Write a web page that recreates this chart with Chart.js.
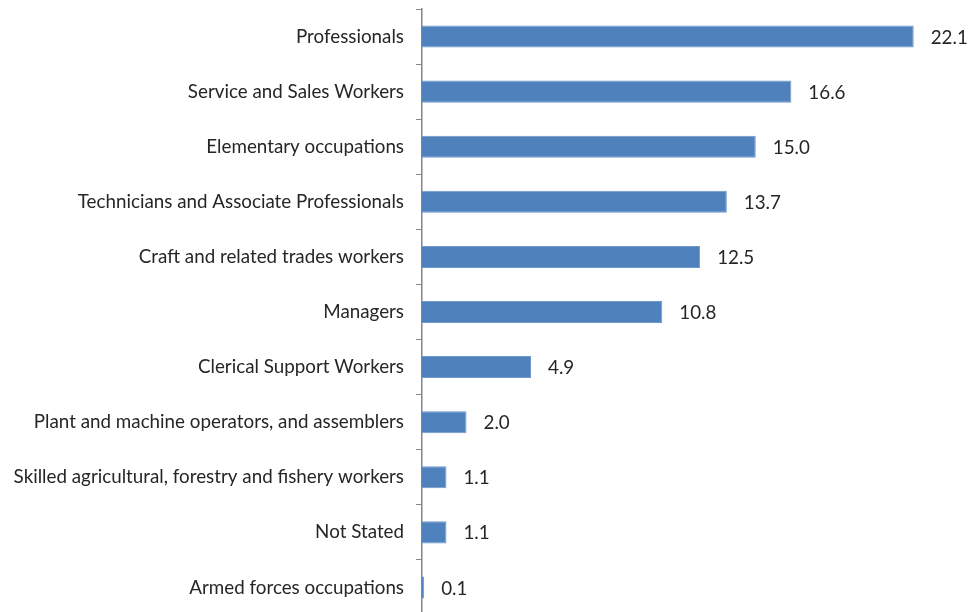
<!DOCTYPE html>
<html>
<head>
<meta charset="utf-8">
<script src="https://cdn.jsdelivr.net/npm/chart.js@4/dist/chart.umd.min.js"></script>
<style>
  html, body { margin: 0; padding: 0; background: #fff; overflow: hidden; }
  #wrap { width: 971px; height: 624px; }
</style>
</head>
<body>
<div id="wrap"><canvas id="chart" width="971" height="624"></canvas></div>
<script>
const categories = [
  'Professionals',
  'Service and Sales Workers',
  'Elementary occupations',
  'Technicians and Associate Professionals',
  'Craft and related trades workers',
  'Managers',
  'Clerical Support Workers',
  'Plant and machine operators, and assemblers',
  'Skilled agricultural, forestry and fishery workers',
  'Not Stated',
  'Armed forces occupations',
];
const shares = [22.1, 16.6, 15.0, 13.7, 12.5, 10.8, 4.9, 2.0, 1.1, 1.1, 0.1];

const FONT = 'Lato, "Open Sans", sans-serif';
const FONT_SIZE = 18.8;

// value labels to the right of each bar
const barLabels = {
  id: 'barLabels',
  afterDatasetsDraw(chart) {
    const ctx = chart.ctx;
    const meta = chart.getDatasetMeta(0);
    ctx.save();
    ctx.font = FONT_SIZE + 'px ' + FONT;
    ctx.fillStyle = '#262626';
    ctx.textAlign = 'left';
    ctx.textBaseline = 'middle';
    meta.data.forEach((bar, i) => {
      ctx.fillText(shares[i].toFixed(1), bar.x + 17, bar.y + 1);
    });
    ctx.restore();
  }
};

new Chart(document.getElementById('chart'), {
  type: 'bar',
  data: {
    labels: categories,
    datasets: [{
      data: shares,
      backgroundColor: '#4F81BD',
      borderColor: '#6E97CC',
      borderWidth: 1,
      barPercentage: 0.4,
      categoryPercentage: 1,
    }],
  },
  options: {
    indexAxis: 'y',
    responsive: false,
    animation: false,
    layout: { padding: { top: 9, bottom: 9, right: 15, left: 0 } },
    plugins: {
      legend: { display: false },
      tooltip: { enabled: false },
    },
    scales: {
      x: {
        display: false,
        min: 0,
        max: 24,
      },
      y: {
        afterFit: (scale) => {
          scale.width = 422;
          scale.paddingTop = 0;
          scale.paddingBottom = 0;
        },
        grid: {
          offset: true,
          drawOnChartArea: false,
          drawTicks: true,
          tickLength: 6,
          color: '#868686',
          lineWidth: 1,
        },
        border: { color: '#868686', width: 1.5 },
        ticks: {
          color: '#262626',
          font: { family: FONT, size: FONT_SIZE },
          padding: 12,
          autoSkip: false,
        },
      },
    },
  },
  plugins: [barLabels],
});
</script>
</body>
</html>
